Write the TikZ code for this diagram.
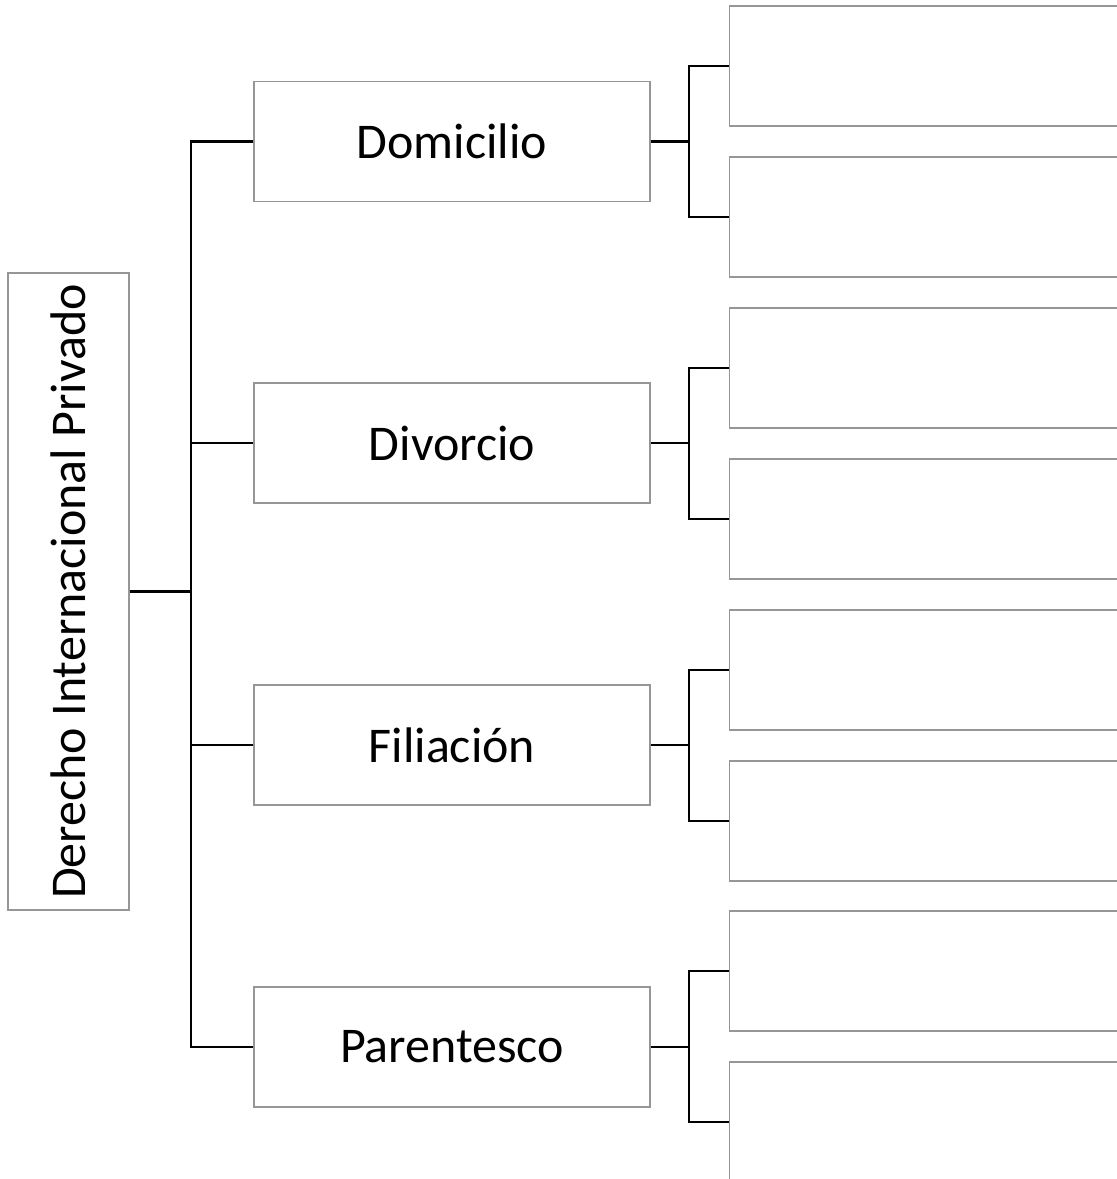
\documentclass[tikz,border=0pt]{standalone}
\usepackage{fontspec}
\setmainfont{Carlito}
\definecolor{boxgray}{RGB}{150,150,150}
\begin{document}
\begin{tikzpicture}[x=0.75pt,y=-0.75pt,
  box/.style={draw=boxgray, line width=1.1pt, fill=white, inner sep=0pt,
    font=\fontsize{37.5}{45}\selectfont},
  midbox/.style={box, minimum width=297pt, minimum height=90pt},
  leafbox/.style={box, anchor=west, minimum width=375pt, minimum height=90pt},
  link/.style={line width=1.6pt, black}]
\useasboundingbox (0,0) rectangle (1117,1179);
\clip (0,0) rectangle (1117,1179);
% root
\node[box, minimum width=90.75pt, minimum height=477.75pt] (root) at (68.5,591.5)
  {\rotatebox{90}{Derecho Internacional Privado}};
% middle
\node[midbox] (m1) at (452,141.5) {Domicilio};
\node[midbox] (m2) at (452,443) {Divorcio};
\node[midbox] (m3) at (452,745) {Filiación};
\node[midbox] (m4) at (452,1047) {Parentesco};
% leaves
\node[leafbox] (r1a) at (729,66) {};
\node[leafbox] (r1b) at (729,217) {};
\node[leafbox] (r2a) at (729,368) {};
\node[leafbox] (r2b) at (729,519) {};
\node[leafbox] (r3a) at (729,670) {};
\node[leafbox] (r3b) at (729,821) {};
\node[leafbox] (r4a) at (729,971) {};
\node[leafbox] (r4b) at (729,1122) {};
% connectors
\coordinate (bx) at (191,0);
\coordinate (cx) at (689,0);
\draw[link] (root.east) -- (root.east -| bx);
\draw[link] (m1.west) -| (bx |- m4.west) -- (m4.west);
\draw[link] (m2.west) -- (m2.west -| bx);
\draw[link] (m3.west) -- (m3.west -| bx);
\foreach \m/\a/\b in {m1/r1a/r1b, m2/r2a/r2b, m3/r3a/r3b, m4/r4a/r4b}{
  \draw[link] (\m.east) -- (\m.east -| cx);
  \draw[link] (\a.west) -| (cx |- \b.west) -- (\b.west);
}
\end{tikzpicture}
\end{document}
